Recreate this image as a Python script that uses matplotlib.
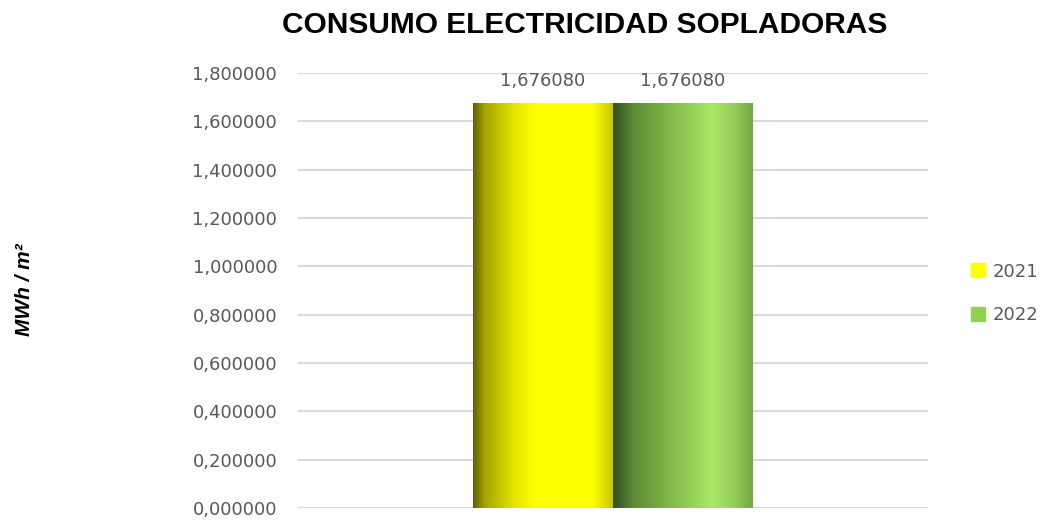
import numpy as np
import matplotlib.pyplot as plt
from matplotlib.colors import LinearSegmentedColormap
from matplotlib.patches import Patch
from matplotlib.ticker import FuncFormatter

plt.rcParams['font.family'] = ['Liberation Sans', 'DejaVu Sans']

title = "CONSUMO ELECTRICIDAD SOPLADORAS"
series = ["2021", "2022"]
values = [1.676080, 1.676080]
yticks = [0.0, 0.2, 0.4, 0.6, 0.8, 1.0, 1.2, 1.4, 1.6, 1.8]

# colores tipo cilindro de Excel
grad_2021 = LinearSegmentedColormap.from_list("y", [
    (0.0, "#5f5f00"), (0.08, "#a3a300"), (0.3, "#e6e600"),
    (0.45, "#ffff00"), (0.85, "#ffff00"), (1.0, "#caca00")])
grad_2022 = LinearSegmentedColormap.from_list("g", [
    (0.0, "#354f22"), (0.15, "#5f8c36"), (0.45, "#86c04e"),
    (0.7, "#a8e866"), (0.85, "#98d25c"), (1.0, "#74a640")])
grads = [grad_2021, grad_2022]
legend_cols = ["#ffff00", "#92d050"]
txt_col = "#595959"
num_font = "DejaVu Sans"

fig = plt.figure(figsize=(10.41, 5.2), dpi=100)
ax = fig.add_axes([0.2863, 0.0231, 0.6052, 0.8365])

w = 0.222
xs = [-w / 2, w / 2]
bars = ax.bar(xs, values, width=w, color="none", zorder=3)

grad = np.linspace(0, 1, 256).reshape(1, -1)
for b, cm, v in zip(bars, grads, values):
    x0 = b.get_x()
    im = ax.imshow(grad, cmap=cm, aspect="auto", zorder=3,
                   extent=[x0, x0 + b.get_width(), 0, b.get_height()])
    im.set_clip_path(b)
    ax.text(x0 + b.get_width() / 2, v + 0.055, f"{v:.6f}".replace(".", ","),
            ha="center", va="bottom", fontsize=13, color=txt_col, family=num_font)

ax.set_xlim(-0.5, 0.5)
ax.set_ylim(0, 1.8)
ax.set_yticks(yticks)
ax.yaxis.set_major_formatter(FuncFormatter(lambda v, p: f"{v:.6f}".replace(".", ",")))
ax.tick_params(axis="y", length=0, pad=15, labelsize=13, labelcolor=txt_col)
for t in ax.get_yticklabels():
    t.set_family(num_font)
ax.set_xticks([])
ax.grid(axis="y", color="#d9d9d9", linewidth=1.5, zorder=0)
for s in ax.spines.values():
    s.set_visible(False)

fig.text(0.562, 0.952, title, ha="center", va="center",
         fontsize=21.5, fontweight="bold", color="black")
fig.text(0.024, 0.442, "MWh / m²", rotation=90, ha="center", va="center",
         fontsize=15, fontweight="bold", fontstyle="italic")

handles = [Patch(color=c, label=s) for c, s in zip(legend_cols, series)]
leg = fig.legend(handles=handles, loc="center left", bbox_to_anchor=(0.917, 0.436),
                 frameon=False, prop={"family": num_font, "size": 13},
                 handlelength=0.8, handleheight=0.8,
                 handletextpad=0.4, labelspacing=1.4)
for t in leg.get_texts():
    t.set_color(txt_col)

fig.savefig("out.png", dpi=100)
